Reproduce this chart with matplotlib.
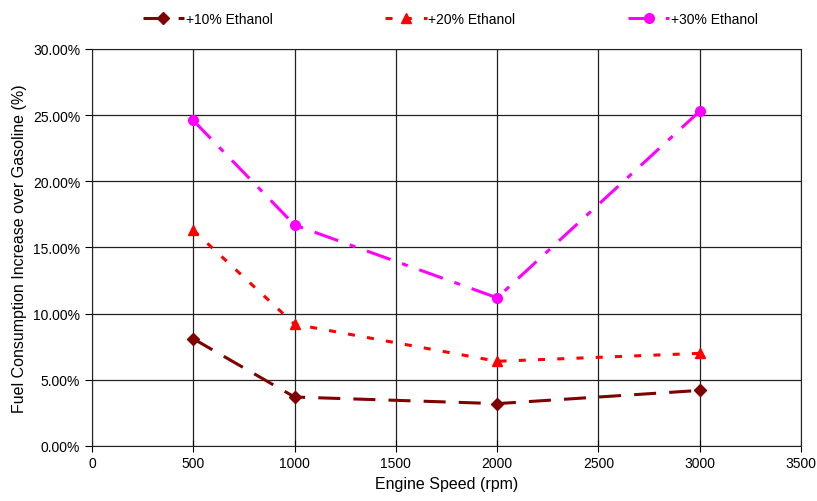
import matplotlib
matplotlib.use('Agg')
import matplotlib.pyplot as plt
from matplotlib.ticker import FuncFormatter
import numpy as np

plt.rcParams['font.family'] = ['Liberation Sans', 'DejaVu Sans']

speed = [500, 1000, 2000, 3000]
eth10 = [8.1, 3.7, 3.2, 4.2]
eth20 = [16.3, 9.2, 6.4, 7.0]
eth30 = [24.6, 16.7, 11.2, 25.3]
labels = ['+10% Ethanol', '+20% Ethanol', '+30% Ethanol']

fig = plt.figure(figsize=(8.17, 5.02), dpi=100)
ax = fig.add_axes([0.1126, 0.1096, 0.8678, 0.7908])

ax.plot(speed, eth10, color='#800000', lw=2.2, ls=(0, (7.2, 4.3)),
        marker='D', ms=6, label=labels[0])
ax.plot(speed, eth20, color='#ff0000', lw=2.2, ls=(0, (2.3, 4)),
        marker='^', ms=7, label=labels[1])
ax.plot(speed, eth30, color='#ff00ff', lw=2.2, ls=(0, (8.2, 4, 2, 4)),
        marker='o', ms=7, label=labels[2])

ax.set_xlim(0, 3500)
ax.set_ylim(0, 30)
ax.set_xticks(np.arange(0, 3501, 500))
ax.set_yticks(np.arange(0, 30.1, 5))
ax.yaxis.set_major_formatter(FuncFormatter(lambda v, p: f'{v:.2f}%'))
ax.grid(color='#222222', lw=0.9)
ax.set_axisbelow(True)
for s in ax.spines.values():
    s.set_color('#222222')
ax.tick_params(axis='both', direction='out', length=5, labelsize=10, colors='k')
ax.tick_params(axis='x', direction='inout', length=8)

ax.set_xlabel('Engine Speed (rpm)', fontsize=11.5)
ax.set_ylabel('Fuel Consumption Increase over Gasoline (%)', fontsize=11.5)

fig.legend(loc='upper center', bbox_to_anchor=(0.551, 1.0), ncol=3, frameon=False,
           fontsize=10, columnspacing=8.1, handlelength=3, handletextpad=0.1)

fig.savefig('out.png', dpi=100)
